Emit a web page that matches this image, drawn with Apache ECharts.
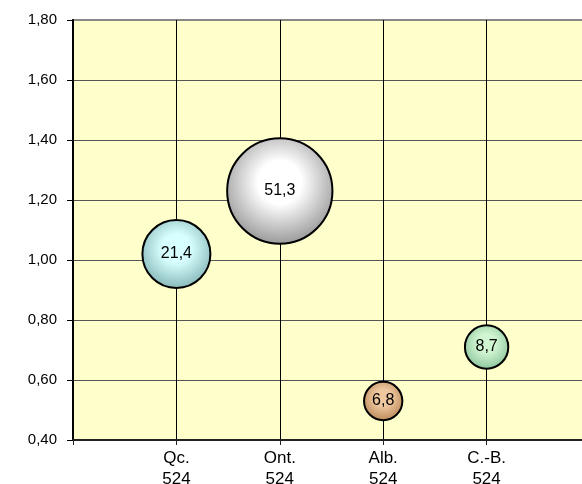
<!DOCTYPE html>
<html>
<head>
<meta charset="utf-8">
<script src="https://cdn.jsdelivr.net/npm/echarts@6/dist/echarts.min.js"></script>
<style>
  html, body { margin: 0; padding: 0; background: #fff; }
  #chart { width: 582px; height: 484px; }
</style>
</head>
<body>
<div id="chart"></div>
<script>
// provinces along the x axis (positions 1..4)
var categories = ['Qc.', 'Ont.', 'Alb.', 'C.-B.'];
var subLabels = ['524', '524', '524', '524'];
var xPositions = [1, 2, 3, 4];
// bubble heights and sizes
var yValues = [1.02, 1.23, 0.53, 0.71];
var bubbleValues = [21.4, 51.3, 6.8, 8.7];
// gradient colours, centre -> edge
var innerColors = ['#d8ffff', '#ffffff', '#f0c8a0', '#d0f5d0'];
var outerColors = ['#86b8b8', '#999999', '#b88858', '#8cc49c'];

var chart = echarts.init(document.getElementById('chart'));

function commaNum(v, d) {
	return v.toFixed(d).replace('.', ',');
}

var points = [];
for (var i = 0; i < categories.length; i++) {
	points.push({
		value: [xPositions[i], yValues[i], bubbleValues[i]],
		symbolSize: 14.7 * Math.sqrt(bubbleValues[i]),
		itemStyle: {
			color: {
				type: 'radial', x: 0.5, y: 0.42, r: 0.58,
				colorStops: [
					{ offset: 0, color: innerColors[i] },
					{ offset: 0.35, color: innerColors[i] },
					{ offset: 1, color: outerColors[i] }
				]
			}
		}
	});
}

chart.setOption({
	animation: false,
	backgroundColor: '#ffffff',
	textStyle: { fontFamily: 'Liberation Sans, Arial, sans-serif' },
	grid: {
		left: 73,
		top: 20,
		bottom: 44,
		right: -8,
		outerBoundsMode: 'none',
		containLabel: false,
		show: true,
		backgroundColor: '#ffffcc',
		borderColor: '#888888',
		borderWidth: 2
	},
	xAxis: {
		type: 'value',
		min: 0,
		max: 5,
		interval: 1,
		axisLine: { lineStyle: { color: '#222', width: 2 } },
		axisTick: { show: true, length: 5, lineStyle: { color: '#222' } },
		axisLabel: {
			color: '#000',
			fontSize: 17,
			lineHeight: 21,
			margin: 8,
			formatter: function(v) {
				var idx = xPositions.indexOf(v);
				if (idx < 0) return '';
				return categories[idx] + '\n' + subLabels[idx];
			}
		},
		splitLine: {
			show: true,
			showMinLine: false,
			lineStyle: { color: '#000', width: 1 }
		}
	},
	yAxis: {
		type: 'value',
		min: 0.4,
		max: 1.8,
		interval: 0.2,
		axisLine: { show: true, lineStyle: { color: '#000', width: 2 } },
		axisTick: { show: true, length: 6, lineStyle: { color: '#000' } },
		axisLabel: {
			color: '#000',
			fontSize: 15,
			margin: 16,
			formatter: function(v) { return commaNum(v, 2); }
		},
		splitLine: {
			show: true,
			showMinLine: false,
			showMaxLine: false,
			lineStyle: { color: '#555', width: 1 }
		}
	},
	series: [{
		type: 'scatter',
		data: points,
		itemStyle: { borderColor: '#000', borderWidth: 2, opacity: 1 },
		label: {
			show: true,
			position: 'inside',
			color: '#000',
			fontSize: 16,
			formatter: function(p) { return commaNum(p.value[2], 1); }
		}
	}]
});
</script>
</body>
</html>
